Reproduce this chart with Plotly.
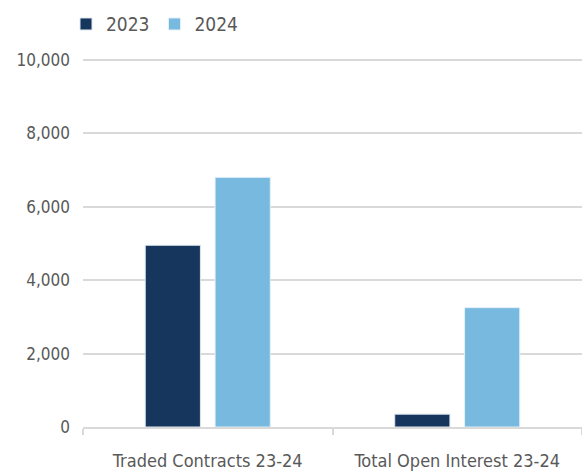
import plotly.graph_objects as go

categories = ["Traded Contracts 23-24", "Total Open Interest 23-24"]
values_2023 = [4950, 350]
values_2024 = [6800, 3250]
y_ticks = [0, 2000, 4000, 6000, 8000, 10000]
y_tick_labels = ["0", "2,000", "4,000", "6,000", "8,000", "10,000"]

FONT = "DejaVu Sans Condensed, sans-serif"
GREY = "#595959"

fig = go.Figure()
fig.add_trace(go.Bar(name="2023", x=categories, y=values_2023,
                     marker=dict(color="#17365d", line=dict(color="#dde6ef", width=1))))
fig.add_trace(go.Bar(name="2024", x=categories, y=values_2024,
                     marker=dict(color="#77b9df", line=dict(color="#e3f0f8", width=1))))

fig.update_layout(
    width=582, height=473,
    margin=dict(l=83, r=0, t=58, b=46, autoexpand=False),
    paper_bgcolor="white", plot_bgcolor="white",
    barmode="group", bargap=0.44, bargroupgap=0.21,
    font=dict(family=FONT, size=18, color=GREY),
    showlegend=True,
    legend=dict(orientation="h", x=(66 - 83) / 499, xref="paper", xanchor="left",
                y=0.949, yref="container", yanchor="middle",
                font=dict(family=FONT, size=19, color=GREY),
                itemwidth=30, tracegroupgap=0),
)
fig.update_yaxes(range=[0, 10050], tickvals=y_ticks, ticktext=y_tick_labels,
                 showgrid=True, gridcolor="#d9d9d9", gridwidth=1.5,
                 zeroline=False, showline=False, ticks="", ticklabelstandoff=12,
                 automargin=False,
                 tickfont=dict(family=FONT, size=17, color=GREY))
fig.update_xaxes(showline=True, linecolor="#d9d9d9", linewidth=2,
                 ticks="outside", tickson="boundaries", ticklen=6, tickcolor="#d9d9d9",
                 tickwidth=2, ticklabelstandoff=16, automargin=False,
                 tickfont=dict(family=FONT, size=18, color=GREY))

fig.write_html("out.html", config={"displayModeBar": False},
               post_script="document.body.style.margin='0';document.body.style.overflow='hidden';")
